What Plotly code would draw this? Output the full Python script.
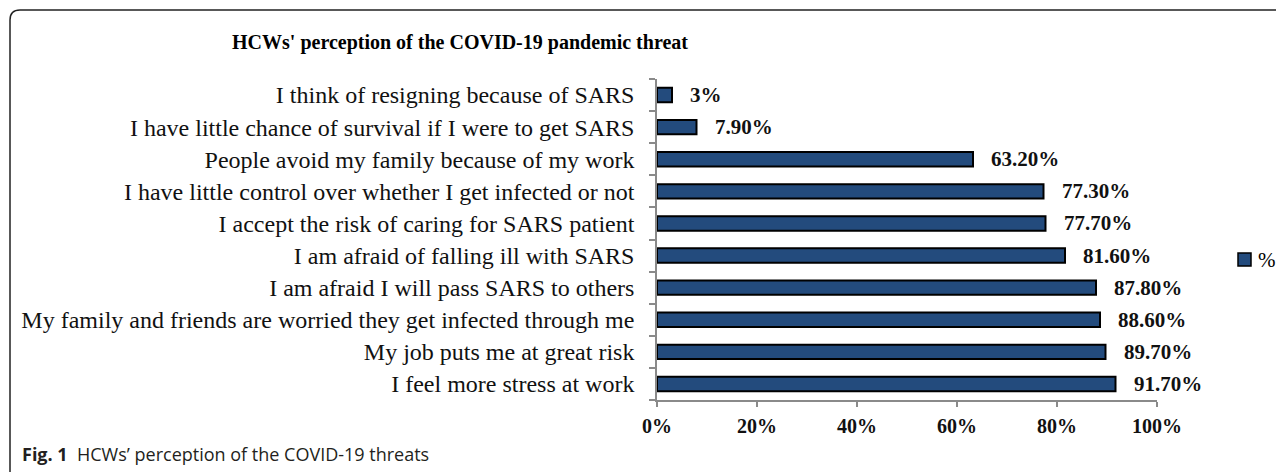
import plotly.graph_objects as go

# Data (bottom to top as drawn)
categories = [
    "I feel more stress at work",
    "My job puts me at great risk",
    "My family and friends are worried they get infected through me",
    "I am afraid I will pass SARS to others",
    "I am afraid of falling ill with SARS",
    "I accept the risk of caring for SARS patient",
    "I have little control over whether I get infected or not",
    "People avoid my family because of my work",
    "I have little chance of survival if I were to get SARS",
    "I think of resigning because of SARS",
]
values = [91.7, 89.7, 88.6, 87.8, 81.6, 77.7, 77.3, 63.2, 7.9, 3.0]
value_labels = ["91.70%", "89.70%", "88.60%", "87.80%", "81.60%",
                "77.70%", "77.30%", "63.20%", "7.90%", "3%"]
series_name = "%"
x_ticks = [0, 20, 40, 60, 80, 100]
x_tick_labels = ["0%", "20%", "40%", "60%", "80%", "100%"]

SERIF = "Liberation Serif"
BAR_COLOR = "#234B7D"
AXIS_COLOR = "#8A8A8A"

OFF = 8  # page body margin
W, H = 1284 - OFF, 472 - OFF
# plot area in page pixels: x 657..1157, y 79..400
L = 657 - OFF
T = 79 - OFF
R = W - (1157 - OFF)
B = H - (400 - OFF)
PW, PH = W - L - R, H - T - B


def fx(px):  # page px -> paper x
    return (px - OFF - L) / PW


def fy(py):  # page px -> paper y
    return (H - B - (py - OFF)) / PH


fig = go.Figure()
fig.add_trace(go.Bar(
    x=values, y=categories, orientation="h", name=series_name,
    width=0.45,
    marker=dict(color=BAR_COLOR, line=dict(color="#000000", width=2)),
    showlegend=False,
))

for v, c, lab in zip(values, categories, value_labels):
    fig.add_annotation(x=v, y=c, xref="x", yref="y", text=lab,
                       showarrow=False, xanchor="left", yanchor="middle",
                       xshift=16,
                       font=dict(family=SERIF, size=21, color="#111111", weight="bold"))

# Outer rounded frame
x0, x1 = fx(10), fx(1294)
y0, y1 = fy(490), fy(10)
rx, ry = 10 / PW, 10 / PH
path = (f"M{x0+rx},{y1} L{x1-rx},{y1} Q{x1},{y1} {x1},{y1-ry} "
        f"L{x1},{y0+ry} Q{x1},{y0} {x1-rx},{y0} L{x0+rx},{y0} "
        f"Q{x0},{y0} {x0},{y0+ry} L{x0},{y1-ry} Q{x0},{y1} {x0+rx},{y1} Z")
fig.add_shape(type="path", path=path, xref="paper", yref="paper",
              line=dict(color="#222222", width=1.5), fillcolor="rgba(0,0,0,0)")

# Legend key (square + series name)
fig.add_shape(type="rect", xref="paper", yref="paper",
              x0=fx(1238), x1=fx(1251), y0=fy(266), y1=fy(253),
              line=dict(color="#000000", width=1.5), fillcolor=BAR_COLOR)
fig.add_annotation(x=fx(1256), y=fy(260), xref="paper", yref="paper",
                   text=series_name, showarrow=False, xanchor="left", yanchor="middle",
                   font=dict(family=SERIF, size=21, color="#000000"))

# Caption
fig.add_annotation(x=fx(20), y=fy(454), xref="paper", yref="paper",
                   text="<b>Fig. 1</b>  HCWs’ perception of the COVID-19 threats",
                   showarrow=False, xanchor="left", yanchor="middle",
                   font=dict(family="Open Sans", size=18, color="#231F20"))

fig.update_layout(
    width=W, height=H,
    margin=dict(l=L, r=R, t=T, b=B, autoexpand=False),
    paper_bgcolor="white", plot_bgcolor="white",
    title=dict(text="HCWs' perception of the COVID-19 pandemic threat",
               x=(460 - OFF) / W, xref="container", xanchor="center",
               y=1 - (42 - OFF) / H, yref="container", yanchor="middle",
               font=dict(family=SERIF, size=20, color="#000000", weight="bold")),
    showlegend=False,
    bargap=0.55,
)

fig.update_xaxes(range=[0, 100], tickvals=x_ticks, ticktext=x_tick_labels,
                 showgrid=False, zeroline=False,
                 showline=True, linecolor=AXIS_COLOR, linewidth=1.5,
                 ticks="outside", ticklen=5, tickcolor=AXIS_COLOR, tickwidth=1.5,
                 ticklabelstandoff=2,
                 tickfont=dict(family=SERIF, size=20, color="#111111", weight="bold"))
fig.update_yaxes(type="category", categoryorder="array", categoryarray=categories,
                 range=[-0.5, len(categories) - 0.5],
                 showgrid=False, zeroline=False,
                 showline=True, linecolor=AXIS_COLOR, linewidth=1.5,
                 ticks="outside", ticklen=6, tickcolor=AXIS_COLOR, tickwidth=1.5,
                 tickson="boundaries", ticklabelstandoff=16,
                 tickfont=dict(family=SERIF, size=24, color="#111111"))

fig.write_html("out.html")
